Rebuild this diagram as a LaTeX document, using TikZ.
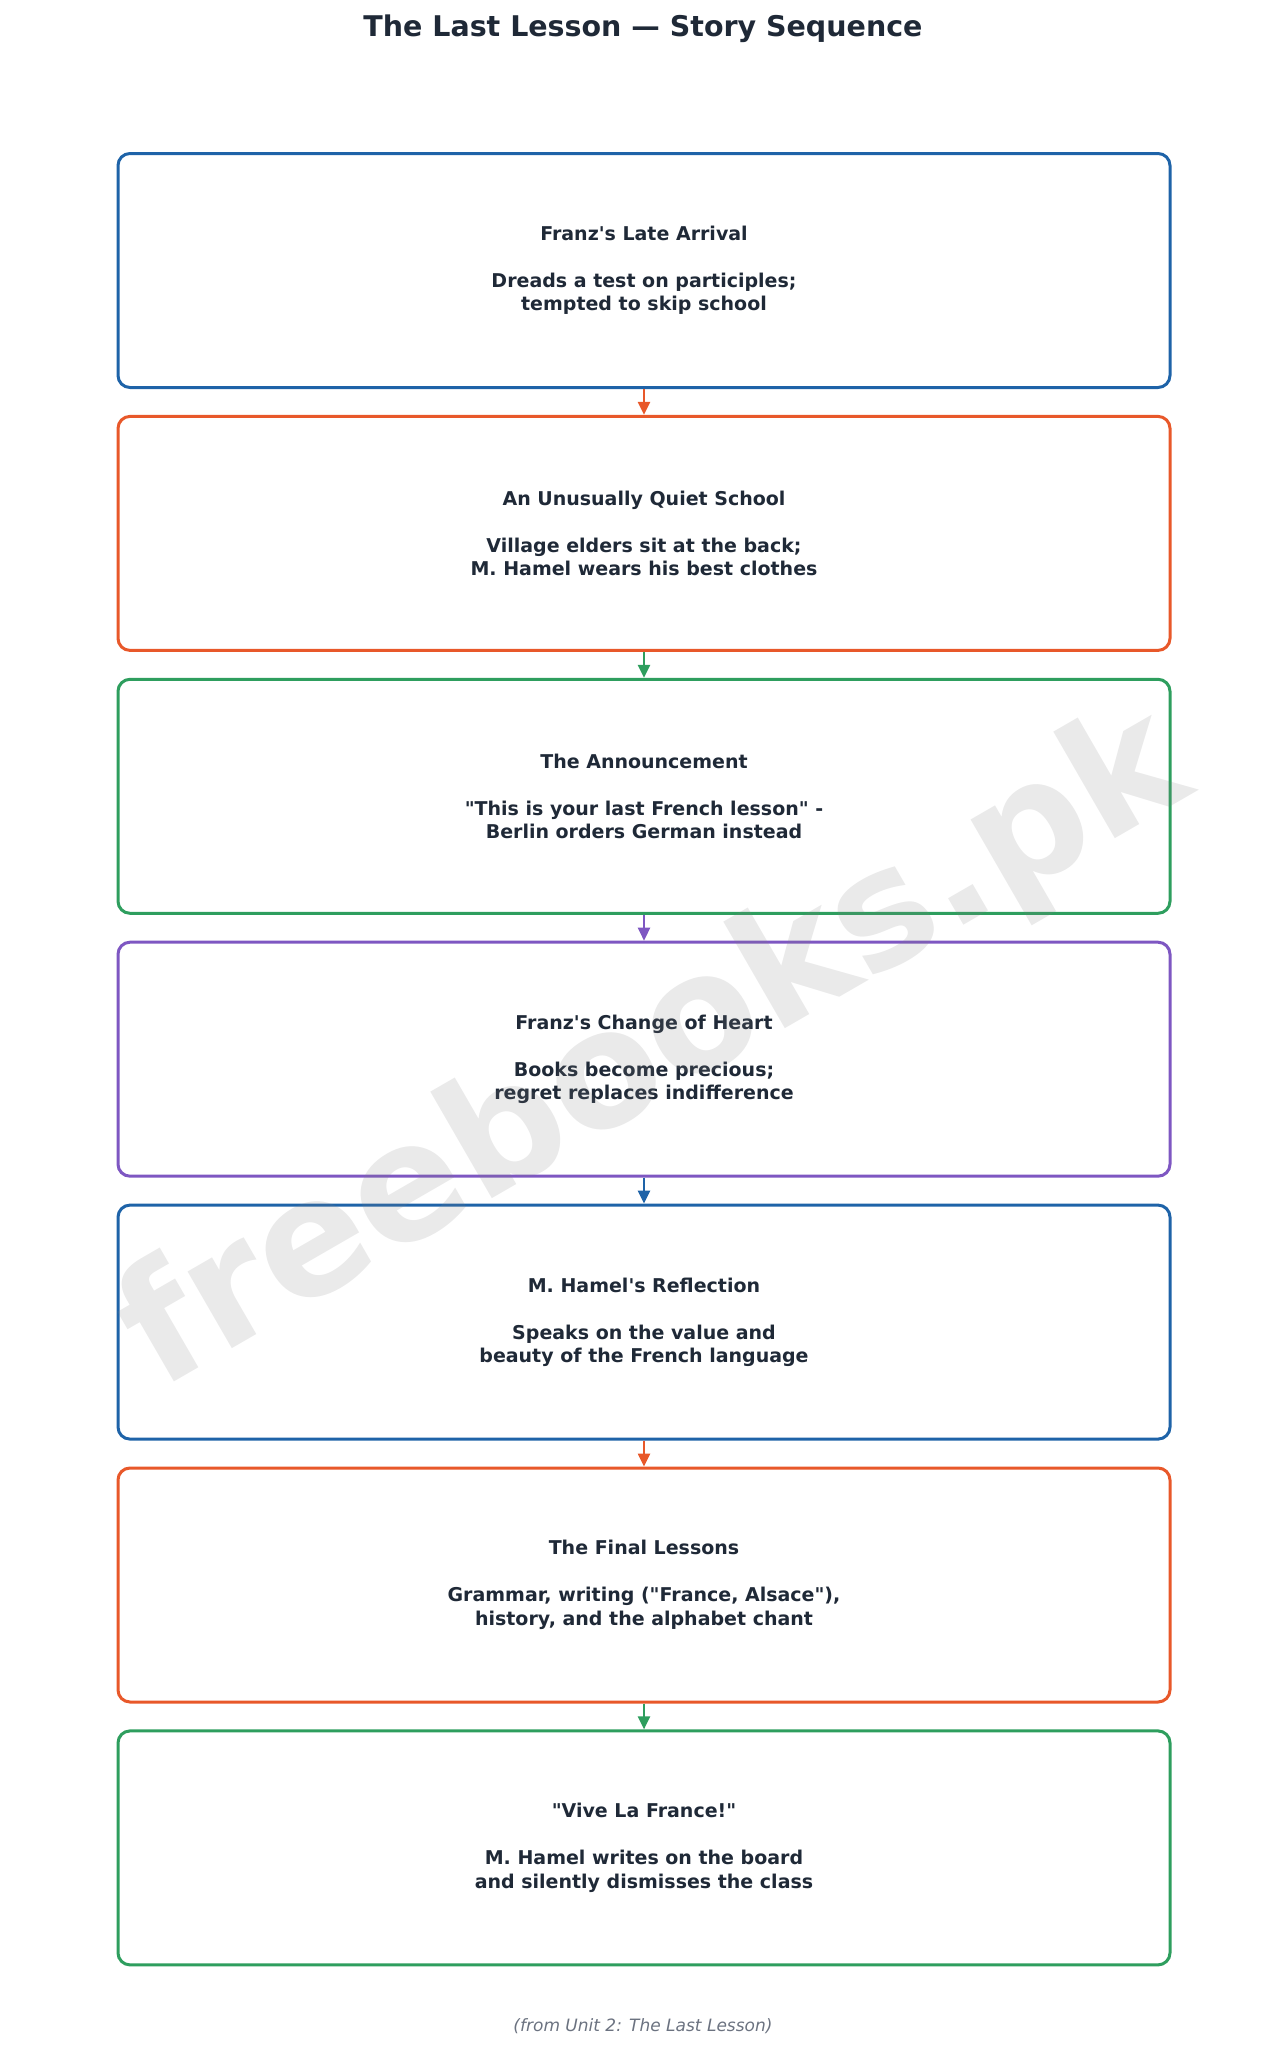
\documentclass[tikz,border=0pt]{standalone}
\usepackage{fontspec}
\setmainfont{DejaVu Sans}
\usetikzlibrary{arrows.meta}
\definecolor{cblue}{HTML}{1E63A8}
\definecolor{corange}{HTML}{E8582A}
\definecolor{cgreen}{HTML}{2E9E5E}
\definecolor{cpurple}{HTML}{7E57C2}
\definecolor{ink}{HTML}{1F2937}
\definecolor{foot}{HTML}{6B7280}
\definecolor{wm}{HTML}{808080}
\newcommand{\dq}{\textquotedbl}
\newcommand{\sq}{\textquotesingle}
\tikzset{
  story/.style={line width=3pt, rounded corners=12pt, minimum width=1052pt, minimum height=234pt,
    align=center, text=ink, font=\bfseries\fontsize{19}{23.5}\selectfont, inner sep=0pt, outer sep=0pt},
  link/.style={line width=2.5pt, -{Triangle[length=13pt,width=12pt]}, shorten <=1.5pt, shorten >=1.5pt}
}
\begin{document}
\begin{tikzpicture}[x=1pt,y=-1pt]
\useasboundingbox (0,0) rectangle (1287,2048);
\node[text=ink, font=\bfseries\fontsize{28.5}{34}\selectfont] (title) at (643,29) {The Last Lesson — Story Sequence};
\node[story, draw=cblue] (b1) at (644,270.5) {Franz\sq s Late Arrival\\[23.5pt]Dreads a test on participles;\\tempted to skip school};
\node[story, draw=corange] (b2) at (644,533.4) {An Unusually Quiet School\\[23.5pt]Village elders sit at the back;\\M. Hamel wears his best clothes};
\node[story, draw=cgreen] (b3) at (644,796.3) {The Announcement\\[23.5pt]\dq This is your last French lesson\dq{} -\\Berlin orders German instead};
\node[story, draw=cpurple] (b4) at (644,1059.2) {Franz\sq s Change of Heart\\[23.5pt]Books become precious;\\regret replaces indifference};
\node[story, draw=cblue] (b5) at (644,1322.1) {M. Hamel\sq s Reflection\\[23.5pt]Speaks on the value and\\beauty of the French language};
\node[story, draw=corange] (b6) at (644,1585) {The Final Lessons\\[23.5pt]Grammar, writing (\dq France, Alsace\dq),\\history, and the alphabet chant};
\node[story, draw=cgreen] (b7) at (644,1847.9) {\dq Vive La France!\dq\\[23.5pt]M. Hamel writes on the board\\and silently dismisses the class};
\draw[link, corange] (b1.south) -- (b2.north);
\draw[link, cgreen] (b2.south) -- (b3.north);
\draw[link, cpurple] (b3.south) -- (b4.north);
\draw[link, cblue] (b4.south) -- (b5.north);
\draw[link, corange] (b5.south) -- (b6.north);
\draw[link, cgreen] (b6.south) -- (b7.north);
\node[text=foot, font=\itshape\fontsize{17}{20}\selectfont] (footer) at (643,2026) {(from Unit 2: The Last Lesson)};
\node[rotate=30, text=wm, text opacity=0.17, font=\bfseries\fontsize{162}{162}\selectfont] (wmark) at (656,1052) {freebooks.pk};
\end{tikzpicture}
\end{document}
